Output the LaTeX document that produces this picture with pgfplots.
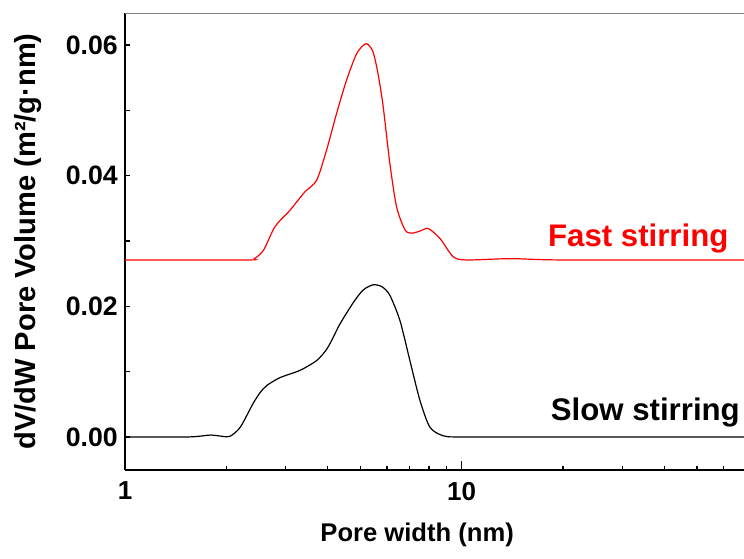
\documentclass[border=0pt]{standalone}
\usepackage{pgfplots}
\pgfplotsset{compat=1.18}
\usepackage{fontspec}
\setmainfont{Liberation Sans}
\begin{document}
\begin{tikzpicture}
\useasboundingbox (0,0) rectangle (558pt,418.5pt);
\begin{axis}[
  at={(93.75pt,66pt)}, anchor=south west,
  scale only axis, width=464.25pt, height=342.75pt,
  xmode=log, xmin=1, xmax=69,
  ymin=-0.00505, ymax=0.0649,
  axis x line*=bottom, axis y line*=left,
  axis line style={line width=1.4pt, -},
  tick align=inside,
  xtick={1,10}, xticklabels={1,10},
  minor xtick={2,3,4,5,6,7,8,9,20,30,40,50,60},
  ytick={0,0.02,0.04,0.06}, yticklabels={0.00,0.02,0.04,0.06},
  minor ytick={0.01,0.03,0.05},
  x tick style={black, line width=1pt},
  y tick style={black, line width=1pt},
  xtick style={/pgfplots/major tick length=6.5pt, /pgfplots/minor tick length=3pt},
  ytick style={/pgfplots/major tick length=4pt, /pgfplots/minor tick length=4pt},
  /pgf/number format/assume math mode=true,
  xticklabel style={font=\fontsize{19.5}{20}\selectfont\bfseries, inner sep=0pt},
  yticklabel style={font=\fontsize{20}{21}\selectfont\bfseries, inner sep=0pt},
  xticklabel shift=8.8pt, yticklabel shift=5.2pt,
  xlabel={Pore width (nm)},
  ylabel={dV/dW Pore Volume (m²/g·nm)},
  xlabel style={font=\fontsize{19.2}{20}\selectfont\bfseries, at={(axis description cs:0.472,-0.157)}, anchor=base},
  ylabel style={font=\fontsize{21.8}{22}\selectfont\bfseries, at={(axis description cs:-0.156,0.5)}, anchor=center},
  clip=true,
]
\draw[gray, line width=0.8pt] (rel axis cs:0,1) -- (rel axis cs:1,1);
\addplot[black, line width=0.9pt, smooth, tension=0.45] coordinates {
(1,0) (1.5,0) (1.65,0.0001) (1.8,0.0003) (1.95,0.0001) (2.05,0.0001)
(2.2,0.0015) (2.4,0.0051) (2.52,0.0068) (2.64,0.0079) (2.89,0.0091) (3.31,0.0102)
(3.71,0.0117) (3.97,0.0134) (4.15,0.0152) (4.35,0.0173) (4.77,0.0206) (5.1,0.0225)
(5.46,0.0233) (5.8,0.0230) (6.12,0.0217) (6.56,0.0178) (7.02,0.0117)
(7.52,0.0056) (8.05,0.0015) (8.8,0.0002) (10,0) (20,0) (70,0)
};
\addplot[red, line width=0.9pt, smooth, tension=0.45] coordinates {
(1,0.0271) (2.3,0.0271) (2.42,0.0273) (2.58,0.0286) (2.79,0.0322)
(3.09,0.0347) (3.42,0.0375) (3.71,0.0393) (3.97,0.0439) (4.25,0.0495)
(4.55,0.0546) (4.88,0.0587) (5.2,0.0602) (5.45,0.0590) (5.65,0.0555) (5.85,0.0505)
(6.12,0.0419) (6.41,0.0352) (6.79,0.0317) (7.1,0.0312) (7.5,0.0315)
(7.96,0.0319) (8.62,0.0304) (9.44,0.0276) (10.35,0.0271) (14,0.0273)
(20,0.0271) (70,0.0271)
};
\node[anchor=base west, inner sep=0pt, text=red, font=\fontsize{23.4}{24}\selectfont\bfseries] at (axis cs:18.04,0.02912) {Fast stirring};
\node[anchor=base west, inner sep=0pt, text=black, font=\fontsize{23.4}{24}\selectfont\bfseries] at (axis cs:18.38,0.0026) {Slow stirring};
\end{axis}
\end{tikzpicture}
\end{document}
